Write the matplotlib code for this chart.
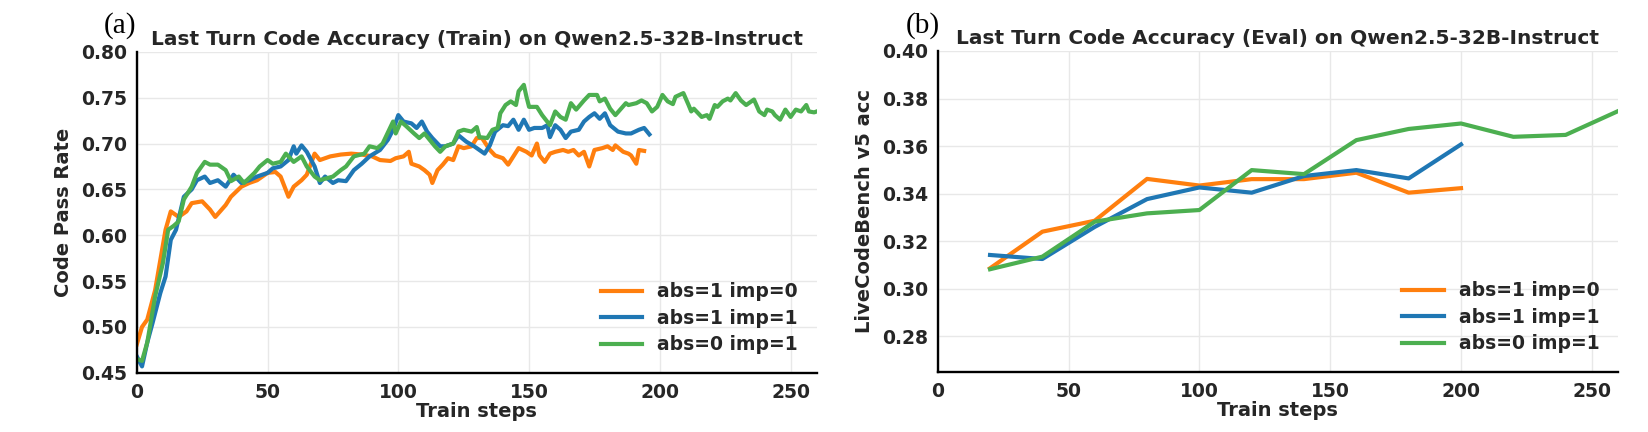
import matplotlib
matplotlib.use("Agg")
import matplotlib.pyplot as plt

# train curves (step -> pass rate)
orange_train_steps = [0, 2, 4, 7, 11, 13, 16, 19, 21, 25, 28, 30, 34, 36, 40, 43, 46, 50, 53, 55,
                      58, 60, 63, 65, 68, 70, 74, 78, 82, 86, 90, 93, 97, 99, 102, 104, 105, 108,
                      110, 112, 113, 115, 117, 119, 121, 123, 125, 128, 130, 132, 135, 137, 140,
                      142, 144, 146, 149, 151, 153, 154, 156, 158, 160, 163, 165, 167, 169, 171,
                      173, 175, 178, 180, 182, 183, 186, 188, 189, 191, 192, 194]
orange_train = [0.481, 0.500, 0.508, 0.540, 0.606, 0.626, 0.620, 0.626, 0.635, 0.637, 0.628, 0.620,
                0.633, 0.642, 0.653, 0.657, 0.660, 0.668, 0.669, 0.664, 0.642, 0.653, 0.660, 0.666,
                0.689, 0.682, 0.686, 0.688, 0.689, 0.688, 0.686, 0.682, 0.681, 0.684, 0.686, 0.691,
                0.678, 0.675, 0.671, 0.666, 0.657, 0.671, 0.677, 0.684, 0.682, 0.697, 0.695, 0.697,
                0.706, 0.706, 0.693, 0.687, 0.684, 0.677, 0.686, 0.695, 0.691, 0.687, 0.700, 0.687,
                0.680, 0.689, 0.691, 0.693, 0.691, 0.693, 0.687, 0.691, 0.675, 0.693, 0.695, 0.697,
                0.693, 0.698, 0.691, 0.689, 0.687, 0.678, 0.693, 0.692]

blue_train_steps = [0, 2, 4, 6, 9, 11, 13, 15, 18, 21, 23, 26, 28, 31, 34, 37, 40, 43, 46, 50, 52,
                    55, 58, 60, 61, 63, 65, 68, 70, 72, 75, 77, 80, 83, 86, 89, 93, 96, 98, 100,
                    102, 105, 107, 109, 111, 113, 116, 118, 121, 123, 126, 129, 133, 135, 137, 140,
                    142, 144, 146, 148, 150, 152, 155, 157, 158, 160, 162, 164, 166, 169, 171, 173,
                    175, 177, 179, 181, 184, 187, 189, 192, 194, 196]
blue_train = [0.468, 0.457, 0.483, 0.504, 0.537, 0.555, 0.595, 0.606, 0.642, 0.650, 0.660, 0.664,
              0.657, 0.660, 0.653, 0.666, 0.657, 0.660, 0.664, 0.668, 0.673, 0.675, 0.682, 0.697,
              0.689, 0.698, 0.691, 0.675, 0.657, 0.664, 0.657, 0.660, 0.659, 0.671, 0.678, 0.686,
              0.693, 0.704, 0.715, 0.731, 0.724, 0.722, 0.717, 0.724, 0.713, 0.706, 0.697, 0.697,
              0.700, 0.709, 0.702, 0.697, 0.689, 0.698, 0.713, 0.720, 0.719, 0.726, 0.715, 0.726,
              0.715, 0.717, 0.717, 0.720, 0.707, 0.720, 0.715, 0.706, 0.713, 0.715, 0.724, 0.729,
              0.733, 0.727, 0.733, 0.720, 0.713, 0.711, 0.711, 0.715, 0.717, 0.710]

green_train_steps = [0, 2, 4, 7, 10, 12, 14, 16, 18, 21, 23, 26, 28, 31, 34, 36, 39, 41, 45, 47, 50,
                     52, 55, 57, 60, 63, 65, 68, 70, 75, 78, 80, 83, 87, 89, 92, 94, 97, 98, 99,
                     101, 103, 106, 108, 110, 112, 114, 116, 118, 121, 123, 125, 128, 130, 131, 134,
                     136, 138, 139, 141, 143, 145, 146, 148, 149, 150, 153, 155, 158, 160, 162, 164,
                     166, 168, 171, 173, 176, 177, 179, 181, 183, 187, 188, 191, 193, 195, 197, 199,
                     201, 203, 205, 206, 209, 211, 212, 213, 216, 218, 219, 221, 222, 224, 226, 227,
                     229, 231, 233, 235, 236, 238, 240, 241, 243, 244, 246, 248, 250, 252, 254, 256,
                     257, 259, 260]
green_train = [0.465, 0.463, 0.483, 0.533, 0.570, 0.606, 0.610, 0.615, 0.639, 0.653, 0.668, 0.680,
               0.677, 0.677, 0.671, 0.659, 0.664, 0.657, 0.668, 0.675, 0.682, 0.678, 0.680, 0.689,
               0.680, 0.686, 0.675, 0.664, 0.660, 0.664, 0.671, 0.675, 0.686, 0.689, 0.697, 0.695,
               0.700, 0.718, 0.724, 0.711, 0.724, 0.719, 0.711, 0.706, 0.711, 0.704, 0.697, 0.691,
               0.697, 0.700, 0.713, 0.715, 0.713, 0.718, 0.707, 0.706, 0.715, 0.717, 0.733, 0.742,
               0.746, 0.742, 0.757, 0.764, 0.751, 0.740, 0.740, 0.731, 0.720, 0.735, 0.729, 0.726,
               0.744, 0.737, 0.747, 0.753, 0.753, 0.746, 0.749, 0.738, 0.731, 0.744, 0.742, 0.744,
               0.747, 0.744, 0.735, 0.740, 0.753, 0.746, 0.743, 0.751, 0.755, 0.742, 0.735, 0.738,
               0.729, 0.731, 0.727, 0.742, 0.740, 0.746, 0.749, 0.747, 0.755, 0.747, 0.742, 0.746,
               0.748, 0.735, 0.731, 0.737, 0.735, 0.731, 0.726, 0.737, 0.729, 0.737, 0.735, 0.742,
               0.735, 0.734, 0.735]

# eval curves (every 20 steps)
orange_eval_steps = [20, 40, 60, 80, 100, 120, 140, 160, 180, 200]
orange_eval = [0.3086, 0.3240, 0.3286, 0.3462, 0.3434, 0.3461, 0.3461, 0.3488, 0.3404, 0.3423]
blue_eval_steps = [20, 40, 60, 80, 100, 120, 140, 160, 180, 200]
blue_eval = [0.3142, 0.3125, 0.3260, 0.3377, 0.3426, 0.3404, 0.3474, 0.3499, 0.3464, 0.3607]
green_eval_steps = [20, 40, 60, 80, 100, 120, 140, 160, 180, 200, 220, 240, 260]
green_eval = [0.3082, 0.3135, 0.3282, 0.3317, 0.3331, 0.3499, 0.3482, 0.3625, 0.3672, 0.3695,
              0.3639, 0.3647, 0.3747]

labels = ["abs=1 imp=0", "abs=1 imp=1", "abs=0 imp=1"]
colours = ["#ff7f0e", "#1f77b4", "#4caf50"]
textColour = "#262626"

fig = plt.figure(figsize=(16.48, 4.32), dpi=100)
axA = fig.add_axes([0.0830, 0.137, 0.4126, 0.743])
axB = fig.add_axes([0.5690, 0.139, 0.4128, 0.743])


def style_axis(ax, title, ylabel):
    ax.set_xlim(0, 260)
    ax.set_xticks([0, 50, 100, 150, 200, 250])
    ax.grid(True, color="#e8e8e8", linewidth=1.0)
    ax.set_axisbelow(True)
    for side in ["top", "right"]:
        ax.spines[side].set_visible(False)
    for side in ["left", "bottom"]:
        ax.spines[side].set_color("black")
        ax.spines[side].set_linewidth(1.7)
    ax.tick_params(length=0, pad=7, labelsize=13.5, labelcolor=textColour)
    for lab in ax.get_xticklabels() + ax.get_yticklabels():
        lab.set_fontweight("bold")
    ax.set_title(title, fontsize=14.5, fontweight="bold", color=textColour, pad=5)
    ax.set_xlabel("Train steps", fontsize=14, fontweight="bold", color=textColour, labelpad=0)
    ax.set_ylabel(ylabel, fontsize=14, fontweight="bold", color=textColour, labelpad=6)
    leg = ax.legend(loc="lower right", frameon=False, prop={"size": 13.5, "weight": "bold"},
                    handlelength=2.2, handletextpad=0.8, labelspacing=0.4, borderaxespad=0.6)
    for t in leg.get_texts():
        t.set_color(textColour)


# (a) train
trainData = [(orange_train_steps, orange_train), (blue_train_steps, blue_train),
             (green_train_steps, green_train)]
for (xs, ys), lab, col in zip(trainData, labels, colours):
    axA.plot(xs, ys, color=col, linewidth=3, label=lab)
axA.set_ylim(0.45, 0.80)
axA.set_yticks([0.45, 0.50, 0.55, 0.60, 0.65, 0.70, 0.75, 0.80])
axA.yaxis.set_major_formatter(matplotlib.ticker.FormatStrFormatter("%.2f"))
style_axis(axA, "Last Turn Code Accuracy (Train) on Qwen2.5-32B-Instruct", "Code Pass Rate")

# (b) eval
evalData = [(orange_eval_steps, orange_eval), (blue_eval_steps, blue_eval),
            (green_eval_steps, green_eval)]
for (xs, ys), lab, col in zip(evalData, labels, colours):
    axB.plot(xs, ys, color=col, linewidth=3, label=lab)
axB.set_ylim(0.265, 0.40)
axB.set_yticks([0.28, 0.30, 0.32, 0.34, 0.36, 0.38, 0.40])
axB.yaxis.set_major_formatter(matplotlib.ticker.FormatStrFormatter("%.2f"))
style_axis(axB, "Last Turn Code Accuracy (Eval) on Qwen2.5-32B-Instruct", "LiveCodeBench v5 acc")

# panel letters
fig.text(136 / 1648, 1 - 26 / 432, "(a)", ha="right", va="center", fontsize=21,
         family="Liberation Serif", color="black")
fig.text(940 / 1648, 1 - 26 / 432, "(b)", ha="right", va="center", fontsize=21,
         family="Liberation Serif", color="black")

fig.savefig("out.png", dpi=100)
